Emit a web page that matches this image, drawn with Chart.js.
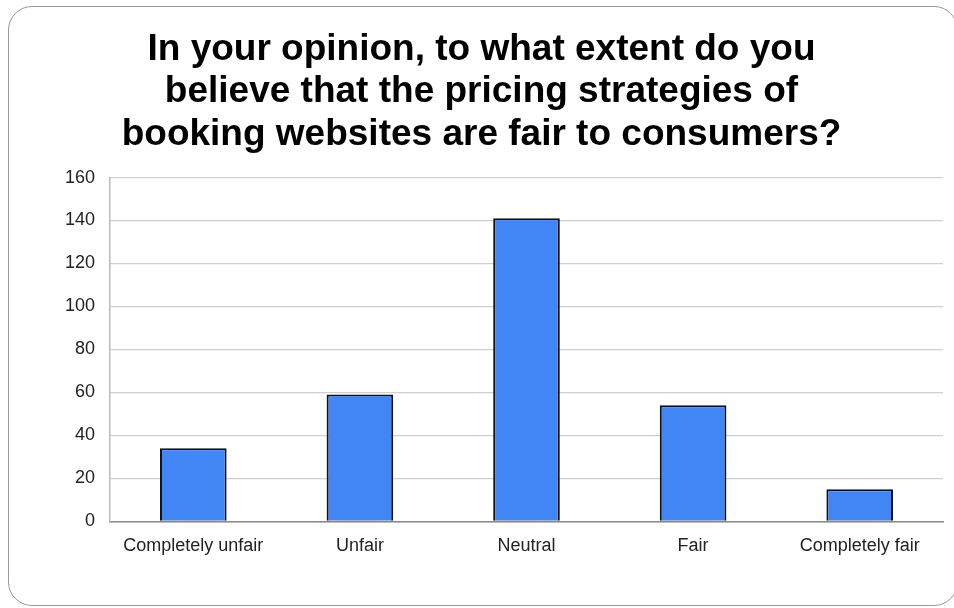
<!DOCTYPE html>
<html>
<head>
<meta charset="utf-8">
<script src="https://cdn.jsdelivr.net/npm/chart.js@4/dist/chart.umd.min.js"></script>
<style>
  body { margin: 0; background: #fff; }
  #card {
    position: absolute; left: 8px; top: 6px; width: 950px; height: 600px;
    border: 1.5px solid #999; border-radius: 24px; box-sizing: border-box;
  }
  #wrap { position: absolute; left: 0; top: 0; width: 954px; height: 608px; }
</style>
</head>
<body>
<div id="card"></div>
<div id="wrap"><canvas id="myChart" width="954" height="608"></canvas></div>
<script>
var categories = ['Completely unfair', 'Unfair', 'Neutral', 'Fair', 'Completely fair'];
var responses = [34, 59, 141, 54, 15];
var titleLines = [
    'In your opinion, to what extent do you',
    'believe that the pricing strategies of',
    'booking websites are fair to consumers?'
];
var yMax = 160;
var yStep = 20;

function init() {
    var ctx = document.getElementById('myChart').getContext('2d');
    Chart.defaults.font.family = '"Liberation Sans", Arial, sans-serif';
    Chart.defaults.color = '#222';

    var myChart = new Chart(ctx, {
        type: 'bar',
        data: {
            labels: categories,
            datasets: [{
                label: 'Responses',
                data: responses,
                backgroundColor: '#4285f4',
                borderColor: '#111',
                borderWidth: 2,
                barPercentage: 0.4,
                categoryPercentage: 1.0
            }]
        },
        options: {
            responsive: false,
            animation: false,
            layout: { padding: { left: 20, right: 11, bottom: 37 } },
            plugins: {
                legend: { display: false },
                tooltip: { enabled: false },
                title: {
                    display: true,
                    text: titleLines,
                    color: '#000',
                    font: { size: 37, weight: 'bold', lineHeight: 1.14 },
                    padding: { top: 29, bottom: 22 }
                }
            },
            scales: {
                x: {
                    grid: { display: false, drawTicks: false },
                    border: { color: '#888', width: 1.5 },
                    ticks: { font: { size: 18 }, padding: 14, color: '#222' }
                },
                y: {
                    min: 0,
                    max: yMax,
                    ticks: { stepSize: yStep, font: { size: 18 }, padding: 15, color: '#222' },
                    grid: { color: '#cfcfcf', lineWidth: 1.2, drawTicks: false },
                    border: { color: '#bbb', width: 1.5 },
                    afterFit: function(scale) { scale.width = 90; }
                }
            }
        }
    });
    console.log(myChart.chartArea);
}

init();
</script>
</body>
</html>
